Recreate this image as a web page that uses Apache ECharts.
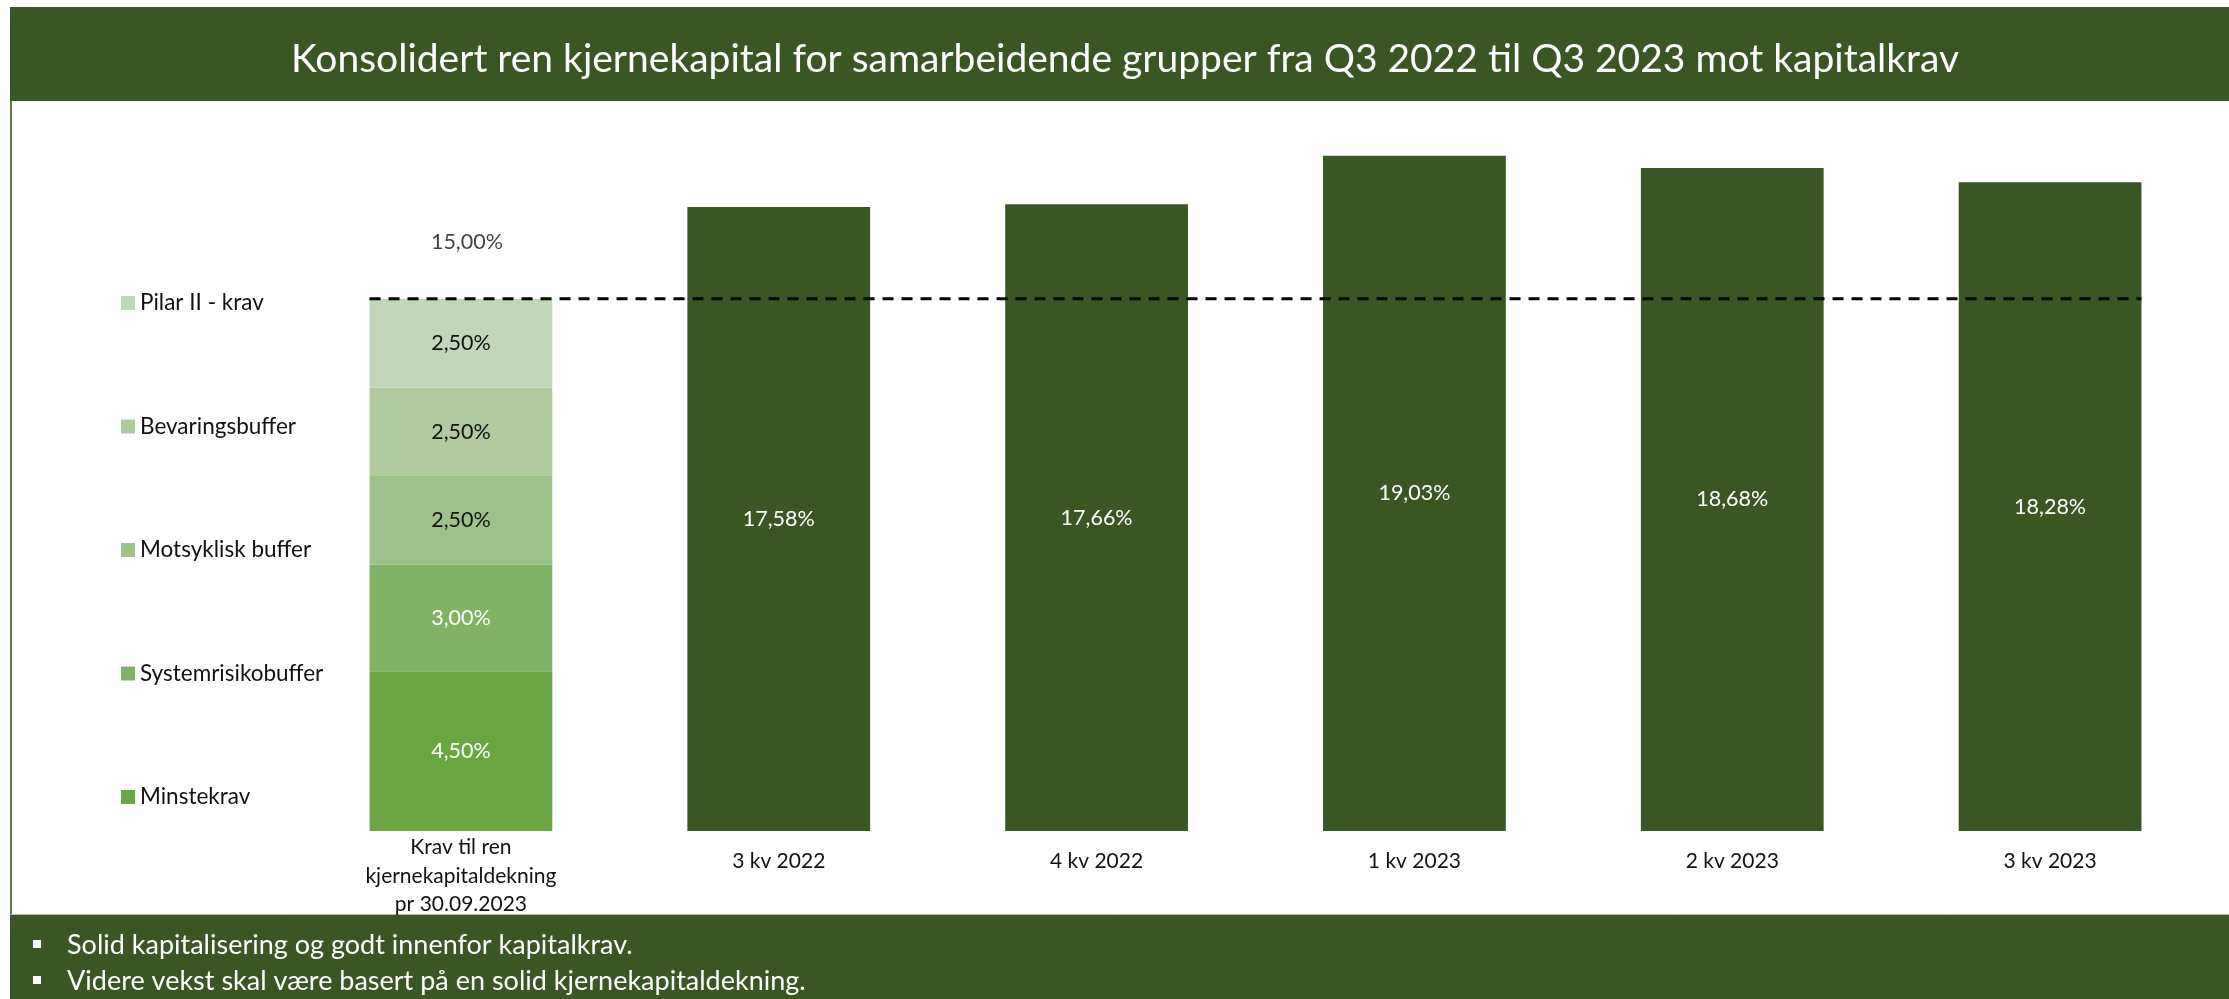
<!DOCTYPE html>
<html>
<head>
<meta charset="utf-8">
<script src="https://cdn.jsdelivr.net/npm/echarts@6/dist/echarts.min.js"></script>
<style>
  html, body { margin: 0; padding: 0; background: #fff; }
  #chart { width: 2229px; height: 999px; }
</style>
</head>
<body>
<div id="chart"></div>
<script>
// data
var kategorier = ['Krav til ren\nkjernekapitaldekning\npr 30.09.2023', '3 kv 2022', '4 kv 2022', '1 kv 2023', '2 kv 2023', '3 kv 2023'];
var kravNavn = ['Minstekrav', 'Systemrisikobuffer', 'Motsyklisk buffer', 'Bevaringsbuffer', 'Pilar II - krav'];
var kravVerdier = [4.5, 3.0, 2.5, 2.5, 2.5];
var renKjernekapital = [17.58, 17.66, 19.03, 18.68, 18.28];
var kravLinje = 15.00;
var punkter = ['Solid kapitalisering og godt innenfor kapitalkrav.', 'Videre vekst skal være basert på en solid kjernekapitaldekning.'];

var gronn = '#385723';
var kravFarger = ['#6aa743', '#80b366', '#9dc289', '#b0cc9f', '#c1d7b8'];
var kravTekst = ['#fff', '#fff', '#111', '#111', '#111'];
var font = 'Lato';
var barFrac = 0.575;

function pst(v) {
    return v.toFixed(2).replace('.', ',') + '%';
}

var myChart = echarts.init(document.getElementById('chart'));

var series = [];
kravNavn.forEach(function (navn, i) {
    var d = kategorier.map(function (k, j) { return j === 0 ? kravVerdier[i] : '-'; });
    series.push({
        name: navn,
        type: 'bar',
        stack: 'alle',
        barWidth: (barFrac * 100) + '%',
        data: d,
        itemStyle: { color: kravFarger[i] },
        label: {
            show: true,
            position: 'inside',
            color: kravTekst[i],
            fontFamily: font,
            fontSize: 21.5,
            formatter: function (p) { return pst(p.value); }
        }
    });
});

series.push({
    name: 'Ren kjernekapital',
    type: 'bar',
    stack: 'alle',
    data: ['-'].concat(renKjernekapital),
    itemStyle: { color: gronn },
    label: {
        show: true,
        position: 'inside',
        color: '#fff',
        fontFamily: font,
        fontSize: 21.5,
        formatter: function (p) { return pst(p.value); }
    }
});

// sum label over the requirement bar
series.push({
    name: 'Sum krav',
    type: 'scatter',
    symbolSize: 0.01,
    itemStyle: { color: 'transparent' },
    data: kategorier.map(function (k, j) { return j === 0 ? kravLinje : '-'; }),
    label: {
        show: true,
        position: 'inside',
        offset: [6, -57],
        color: '#111',
        fontFamily: font,
        fontSize: 21.5,
        formatter: function (p) { return pst(p.value); }
    },
    silent: true
});

// dashed requirement line from first bar edge to last bar edge
series.push({
    name: 'Kravlinje',
    type: 'line',
    xAxisIndex: 1,
    showSymbol: false,
    silent: true,
    data: [[-barFrac / 2, kravLinje], [kategorier.length - 1 + barFrac / 2, kravLinje]],
    lineStyle: { color: '#000', width: 3, type: [11, 8] },
    z: 5
});

var option = {
    animation: false,
    title: {
        text: 'Konsolidert ren kjernekapital for samarbeidende grupper fra Q3 2022 til Q3 2023 mot kapitalkrav',
        left: 1125,
        top: 40,
        padding: 0,
        textAlign: 'center',
        textStyle: { color: '#fff', fontFamily: font, fontWeight: 'normal', fontSize: 39, lineHeight: 39 }
    },
    legend: {
        orient: 'vertical',
        left: 121,
        top: 291,
        padding: 0,
        itemGap: 99.5,
        itemWidth: 14,
        itemHeight: 14,
        icon: 'rect',
        selectedMode: false,
        data: kravNavn.slice().reverse(),
        textStyle: { color: '#111', fontFamily: font, fontSize: 22.5, lineHeight: 24 }
    },
    grid: { left: 302, right: 20, top: 123, bottom: 168 },
    xAxis: [{
        type: 'category',
        data: kategorier,
        axisLine: { show: false },
        axisTick: { show: false },
        axisLabel: {
            margin: 2,
            interval: 0,
            verticalAlign: 'top',
            formatter: function (v) {
                return v.indexOf('\n') >= 0 ? '{m|' + v + '}' : '{s|' + v + '}';
            },
            rich: {
                m: { color: '#111', fontFamily: font, fontSize: 21, lineHeight: 28.5 },
                s: { color: '#111', fontFamily: font, fontSize: 21, lineHeight: 56 }
            }
        }
    }, {
        type: 'value',
        show: false,
        min: -0.5,
        max: kategorier.length - 0.5
    }],
    yAxis: {
        type: 'value',
        min: 0,
        max: 19.95,
        show: false,
        splitLine: { show: false }
    },
    graphic: [
        { type: 'rect', z: -1, shape: { x: 10, y: 7, width: 2219, height: 94 }, style: { fill: gronn } },
        { type: 'rect', z: -1, shape: { x: 10, y: 915, width: 2219, height: 84 }, style: { fill: gronn } },
        { type: 'line', z: -1, shape: { x1: 11, y1: 101, x2: 11, y2: 915 }, style: { stroke: '#5d7a48', lineWidth: 2 } },
        { type: 'line', z: -1, shape: { x1: 10, y1: 914.5, x2: 2229, y2: 914.5 }, style: { stroke: '#b5b5b5', lineWidth: 1 } },
        { type: 'rect', shape: { x: 33, y: 940, width: 8, height: 8 }, style: { fill: '#fff' } },
        { type: 'rect', shape: { x: 33, y: 976, width: 8, height: 8 }, style: { fill: '#fff' } },
        { type: 'text', x: 67, y: 945, style: { text: punkter[0], fill: '#fff', font: '27px Lato', verticalAlign: 'middle' } },
        { type: 'text', x: 67, y: 981, style: { text: punkter[1], fill: '#fff', font: '27px Lato', verticalAlign: 'middle' } }
    ],
    series: series
};

myChart.setOption(option);
</script>
</body>
</html>
